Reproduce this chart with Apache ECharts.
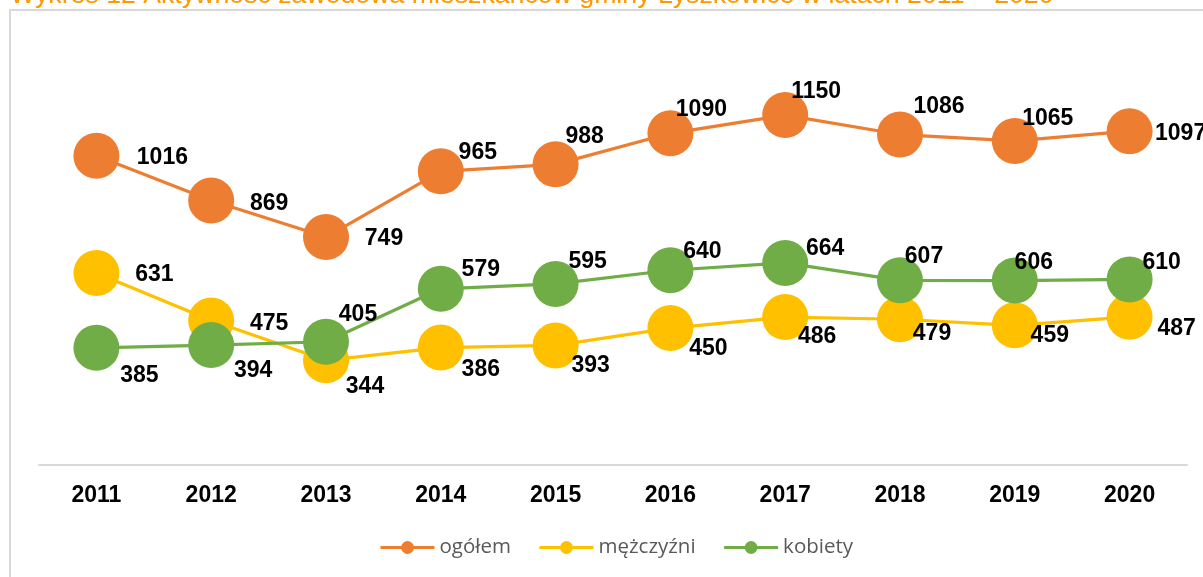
<!DOCTYPE html>
<html>
<head>
<meta charset="utf-8">
<script src="https://cdn.jsdelivr.net/npm/echarts@6/dist/echarts.min.js"></script>
<style>
  html, body { margin: 0; padding: 0; background: #fff; }
  #chart { width: 1203px; height: 577px; }
</style>
</head>
<body>
<div id="chart"></div>
<script>
const years = ["2011", "2012", "2013", "2014", "2015", "2016", "2017", "2018", "2019", "2020"];
const ogolem = [1016, 869, 749, 965, 988, 1090, 1150, 1086, 1065, 1097];
const mezczyzni = [631, 475, 344, 386, 393, 450, 486, 479, 459, 487];
const kobiety = [385, 394, 405, 579, 595, 640, 664, 607, 606, 610];

// where each value label sits relative to its marker (px)
const ogolemLabelOffsets = [[66, 2], [58, 3], [58, 2], [37, -19], [29, -28], [31, -24], [31, -23], [39, -28], [33, -22], [51, 2]];
const mezczyzniLabelOffsets = [[58, 2], [58, 3], [39, 26], [40, 22], [35, 20], [38, 21], [32, 20], [32, 14], [35, 10], [47, 12]];
const kobietyLabelOffsets = [[43, 28], [42, 26], [32, -27], [40, -19], [32, -22], [32, -19], [40, -14], [24, -24], [19, -18], [32, -17]];

const labelFont = {
  fontFamily: "Liberation Sans, Arial, sans-serif",
  fontSize: 23,
  fontWeight: "bold",
  color: "#000",
};

function makeSeries(name, values, offsets, color) {
  return {
    name: name,
    type: "line",
    symbol: "circle",
    symbolSize: 46,
    lineStyle: { color: color, width: 3.2 },
    itemStyle: { color: color },
    data: values.map((v, i) => ({
      value: v,
      label: { offset: offsets[i] },
    })),
    label: {
      show: true,
      position: "inside",
      ...labelFont,
    },
    emphasis: { disabled: true },
  };
}

const chart = echarts.init(document.getElementById("chart"));
chart.setOption({
  animation: false,
  title: {
    text: "Wykres 12 Aktywność zawodowa mieszkańców gminy Łyszkowice w latach 2011 – 2020",
    left: 10,
    top: -18,
    padding: 0,
    textStyle: {
      fontFamily: "Liberation Sans, Arial, sans-serif",
      fontSize: 26.7,
      fontWeight: "normal",
      color: "#FF9900",
    },
  },
  graphic: [
    {
      type: "rect",
      shape: { x: 10, y: 10, width: 1250, height: 600 },
      style: { fill: "none", stroke: "#d9d9d9", lineWidth: 2 },
      silent: true,
      z: -1,
    },
  ],
  grid: { left: 39, right: 16, top: 39, bottom: 112 },
  legend: {
    left: 379,
    top: 537,
    padding: 0,
    itemWidth: 54,
    itemHeight: 16,
    itemGap: 27,
    lineStyle: { width: 3 },
    textStyle: {
      fontFamily: "Open Sans, sans-serif",
      fontSize: 20.5,
      color: "#595959",
    },
    data: ["ogółem", "mężczyźni", "kobiety"],
  },
  xAxis: {
    type: "category",
    data: years,
    axisLine: { lineStyle: { color: "#d9d9d9", width: 2 } },
    axisTick: { show: false },
    axisLabel: { margin: 19, ...labelFont },
  },
  yAxis: {
    type: "value",
    min: 0,
    max: 1400,
    show: false,
    splitLine: { show: false },
  },
  series: [
    makeSeries("ogółem", ogolem, ogolemLabelOffsets, "#ED7D31"),
    makeSeries("mężczyźni", mezczyzni, mezczyzniLabelOffsets, "#FFC000"),
    makeSeries("kobiety", kobiety, kobietyLabelOffsets, "#70AD47"),
  ],
});
</script>
</body>
</html>
